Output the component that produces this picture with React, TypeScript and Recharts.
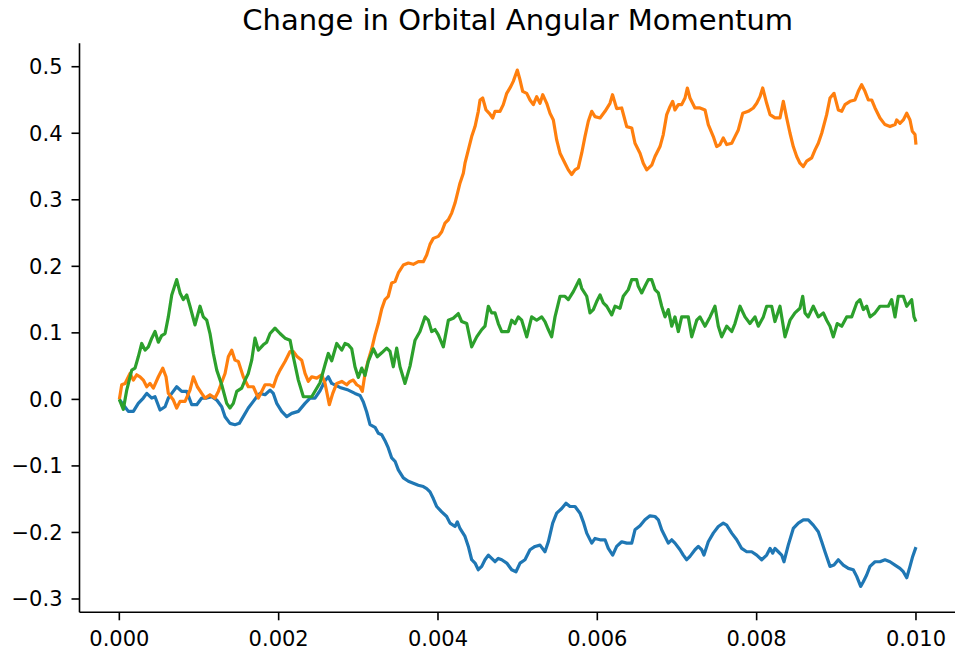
import React from "react";
import { LineChart, Line, XAxis, YAxis } from "recharts";

// [time (s), change in orbital angular momentum]
const blue: [number, number][] = [
  [0, 0], [0.00005, -0.008], [0.000113, -0.018], [0.000176, -0.018], [0.000238, -0.006], [0.000301, 0.002],
  [0.000344, 0.009], [0.000407, 0.002], [0.000448, 0.004], [0.000511, -0.016], [0.000574, -0.011], [0.000615, 0.002],
  [0.000658, 0.009], [0.00072, 0.019], [0.000783, 0.012], [0.000846, 0.012], [0.000909, -0.008], [0.000972, -0.008],
  [0.001034, 0.002], [0.001097, 0.002], [0.00116, 0.004], [0.001223, -0.001], [0.001285, -0.011], [0.001327, -0.026],
  [0.001389, -0.036], [0.001452, -0.038], [0.001506, -0.036], [0.001556, -0.026], [0.001619, -0.013], [0.001682, -0.003],
  [0.001725, 0.004], [0.001766, 0.009], [0.001829, 0.007], [0.001892, 0.014], [0.001933, 0.009], [0.001976, -0.006],
  [0.002038, -0.018], [0.002101, -0.026], [0.002164, -0.021], [0.002247, -0.018], [0.002331, -0.006], [0.002394, 0.002],
  [0.002456, 0.002], [0.002519, 0.013], [0.002582, 0.028], [0.002623, 0.034], [0.002666, 0.024], [0.00277, 0.018],
  [0.002874, 0.014], [0.002958, 0.009], [0.003021, 0.006], [0.003063, -0.004], [0.003105, -0.019], [0.003147, -0.038],
  [0.00321, -0.042], [0.003251, -0.051], [0.003294, -0.053], [0.003335, -0.062], [0.003376, -0.073], [0.003419, -0.088],
  [0.003461, -0.093], [0.003502, -0.106], [0.003565, -0.118], [0.003628, -0.123], [0.00369, -0.126], [0.003753, -0.129],
  [0.003816, -0.131], [0.003858, -0.134], [0.0039, -0.139], [0.003941, -0.149], [0.003984, -0.161], [0.004047, -0.169],
  [0.004109, -0.176], [0.004151, -0.186], [0.004214, -0.191], [0.004243, -0.184], [0.004276, -0.194], [0.004339, -0.206],
  [0.004381, -0.221], [0.004423, -0.241], [0.004465, -0.246], [0.004506, -0.256], [0.004549, -0.251], [0.00459, -0.241],
  [0.004632, -0.234], [0.004674, -0.239], [0.004716, -0.244], [0.004757, -0.239], [0.0048, -0.241], [0.004863, -0.246],
  [0.004925, -0.256], [0.004979, -0.259], [0.00503, -0.246], [0.005092, -0.241], [0.005155, -0.226], [0.005218, -0.221],
  [0.005281, -0.219], [0.005343, -0.229], [0.005385, -0.214], [0.00544, -0.186], [0.00549, -0.171], [0.005553, -0.164],
  [0.005607, -0.156], [0.005657, -0.161], [0.00572, -0.161], [0.005783, -0.171], [0.005824, -0.184], [0.005867, -0.201],
  [0.00593, -0.216], [0.005971, -0.209], [0.006034, -0.211], [0.006097, -0.211], [0.006138, -0.224], [0.006193, -0.234],
  [0.006243, -0.221], [0.006306, -0.214], [0.006369, -0.216], [0.006432, -0.216], [0.006473, -0.196], [0.006536, -0.19],
  [0.006598, -0.181], [0.006661, -0.175], [0.006724, -0.176], [0.006766, -0.181], [0.006808, -0.196], [0.00685, -0.206],
  [0.006891, -0.216], [0.006934, -0.211], [0.006975, -0.216], [0.007038, -0.226], [0.007079, -0.234], [0.007122, -0.241],
  [0.007163, -0.236], [0.007226, -0.226], [0.007268, -0.221], [0.00731, -0.226], [0.007339, -0.234], [0.007393, -0.214],
  [0.007456, -0.201], [0.007519, -0.191], [0.007581, -0.186], [0.007624, -0.189], [0.007687, -0.201], [0.00775, -0.211],
  [0.007812, -0.224], [0.007875, -0.229], [0.007938, -0.229], [0.008001, -0.234], [0.008063, -0.241], [0.008126, -0.234],
  [0.008168, -0.224], [0.008202, -0.231], [0.00823, -0.224], [0.008272, -0.229], [0.008314, -0.234], [0.008343, -0.244],
  [0.008397, -0.219], [0.00846, -0.194], [0.008523, -0.186], [0.008586, -0.181], [0.008648, -0.181], [0.008711, -0.189],
  [0.008774, -0.199], [0.008817, -0.214], [0.008858, -0.229], [0.008921, -0.251], [0.008971, -0.249], [0.009025, -0.241],
  [0.009088, -0.249], [0.009151, -0.254], [0.009213, -0.256], [0.009256, -0.266], [0.009306, -0.281], [0.009339, -0.274],
  [0.009381, -0.264], [0.009423, -0.251], [0.009486, -0.244], [0.009548, -0.244], [0.009611, -0.241], [0.009674, -0.244],
  [0.009737, -0.249], [0.009799, -0.254], [0.009841, -0.259], [0.009884, -0.268], [0.009925, -0.251], [0.009959, -0.236],
  [0.01, -0.222],
];

const orange: [number, number][] = [
  [0, 0], [0.00003, 0.022], [0.000072, 0.024], [0.000134, 0.039], [0.000176, 0.029], [0.000218, 0.037],
  [0.00026, 0.034], [0.000301, 0.029], [0.000344, 0.019], [0.000385, 0.024], [0.000427, 0.017], [0.00049, 0.034],
  [0.000545, 0.047], [0.000586, 0.034], [0.000615, 0.009], [0.000678, -0.001], [0.00072, -0.013], [0.000762, -0.003],
  [0.000825, -0.003], [0.000887, 0.014], [0.000929, 0.034], [0.000979, 0.019], [0.001034, 0.009], [0.001076, 0.002],
  [0.001138, 0.007], [0.001201, 0.002], [0.001243, 0.012], [0.001264, 0.019], [0.001327, 0.039], [0.001368, 0.064],
  [0.001411, 0.074], [0.001452, 0.059], [0.001494, 0.057], [0.001556, 0.034], [0.001619, 0.019], [0.001682, 0.019],
  [0.001745, 0.002], [0.001787, 0.012], [0.001829, 0.022], [0.001892, 0.022], [0.001933, 0.019], [0.001976, 0.034],
  [0.002017, 0.044], [0.00208, 0.057], [0.002143, 0.072], [0.002184, 0.072], [0.002227, 0.065], [0.002289, 0.059],
  [0.002331, 0.039], [0.002372, 0.027], [0.002415, 0.034], [0.002478, 0.032], [0.002541, 0.037], [0.002582, 0.024],
  [0.002636, -0.008], [0.002679, 0.009], [0.002729, 0.024], [0.002792, 0.027], [0.002854, 0.022], [0.002896, 0.027],
  [0.002937, 0.029], [0.00298, 0.022], [0.003021, 0.019], [0.00305, 0.012], [0.003084, 0.039], [0.003125, 0.059],
  [0.003168, 0.076], [0.00321, 0.097], [0.003251, 0.114], [0.003294, 0.136], [0.003335, 0.15], [0.003376, 0.155],
  [0.003419, 0.175], [0.003461, 0.177], [0.003502, 0.19], [0.003565, 0.202], [0.003628, 0.205], [0.00369, 0.203],
  [0.003753, 0.207], [0.003816, 0.207], [0.003858, 0.217], [0.0039, 0.233], [0.003941, 0.242], [0.004004, 0.245],
  [0.004047, 0.252], [0.004088, 0.265], [0.00413, 0.27], [0.004172, 0.28], [0.004214, 0.295], [0.004235, 0.305],
  [0.004276, 0.325], [0.004318, 0.34], [0.004339, 0.355], [0.004381, 0.375], [0.004423, 0.395], [0.004465, 0.41],
  [0.004506, 0.433], [0.004528, 0.45], [0.004561, 0.453], [0.004603, 0.435], [0.004644, 0.43], [0.004687, 0.423],
  [0.004716, 0.433], [0.004779, 0.433], [0.00482, 0.443], [0.004863, 0.46], [0.004913, 0.47], [0.004945, 0.478],
  [0.004996, 0.495], [0.00503, 0.48], [0.005063, 0.463], [0.005114, 0.46], [0.005155, 0.45], [0.005197, 0.443],
  [0.005239, 0.455], [0.005281, 0.445], [0.005315, 0.458], [0.005365, 0.445], [0.005406, 0.43], [0.005448, 0.42],
  [0.00549, 0.39], [0.005532, 0.37], [0.005594, 0.355], [0.005636, 0.345], [0.005678, 0.338], [0.00572, 0.345],
  [0.005761, 0.348], [0.005804, 0.37], [0.005845, 0.395], [0.005887, 0.418], [0.00593, 0.433], [0.005971, 0.425],
  [0.006034, 0.423], [0.006097, 0.433], [0.006159, 0.445], [0.006191, 0.458], [0.006243, 0.437], [0.006306, 0.438],
  [0.006369, 0.41], [0.006432, 0.408], [0.006473, 0.385], [0.006536, 0.37], [0.006577, 0.355], [0.00662, 0.345],
  [0.006683, 0.352], [0.006724, 0.365], [0.006787, 0.38], [0.006828, 0.398], [0.006871, 0.428], [0.006912, 0.44],
  [0.006946, 0.448], [0.006975, 0.435], [0.007017, 0.443], [0.007059, 0.443], [0.007101, 0.453], [0.00713, 0.468],
  [0.007163, 0.453], [0.007226, 0.438], [0.007289, 0.438], [0.007352, 0.435], [0.007393, 0.413], [0.007456, 0.395],
  [0.007498, 0.38], [0.00754, 0.383], [0.007581, 0.393], [0.007624, 0.383], [0.007687, 0.385], [0.007728, 0.395],
  [0.00777, 0.405], [0.007825, 0.43], [0.007895, 0.433], [0.007958, 0.438], [0.008001, 0.445], [0.008042, 0.455],
  [0.008076, 0.468], [0.008126, 0.445], [0.008168, 0.428], [0.00823, 0.423], [0.008293, 0.423], [0.008335, 0.448],
  [0.008377, 0.423], [0.008419, 0.4], [0.00846, 0.38], [0.008503, 0.365], [0.008544, 0.355], [0.008586, 0.35],
  [0.008628, 0.358], [0.008691, 0.363], [0.008733, 0.375], [0.008774, 0.385], [0.008817, 0.4], [0.008879, 0.428],
  [0.008921, 0.453], [0.008971, 0.46], [0.009025, 0.435], [0.009068, 0.433], [0.009109, 0.443], [0.009172, 0.448],
  [0.009234, 0.45], [0.009276, 0.463], [0.009318, 0.473], [0.00936, 0.463], [0.009402, 0.45], [0.009444, 0.45],
  [0.009486, 0.438], [0.009548, 0.423], [0.009611, 0.413], [0.009674, 0.41], [0.009737, 0.413], [0.009758, 0.42],
  [0.009799, 0.415], [0.009841, 0.42], [0.009884, 0.43], [0.009925, 0.42], [0.009954, 0.403], [0.009988, 0.398],
  [0.01, 0.383],
];

const green: [number, number][] = [
  [0, 0], [0.00005, -0.015], [0.000093, 0.014], [0.000156, 0.044], [0.000197, 0.047], [0.000238, 0.064],
  [0.000281, 0.084], [0.000323, 0.074], [0.000364, 0.079], [0.000407, 0.092], [0.000448, 0.102], [0.00049, 0.086],
  [0.000532, 0.096], [0.000574, 0.099], [0.000615, 0.124], [0.000658, 0.157], [0.00072, 0.18], [0.000762, 0.16],
  [0.000803, 0.15], [0.000846, 0.157], [0.000887, 0.14], [0.00095, 0.112], [0.001013, 0.14], [0.001054, 0.124],
  [0.001097, 0.119], [0.001138, 0.099], [0.00118, 0.069], [0.001223, 0.044], [0.001285, 0.022], [0.001348, -0.006],
  [0.001389, -0.013], [0.001431, -0.006], [0.001474, 0.012], [0.001536, 0.017], [0.001578, 0.029], [0.001619, 0.039],
  [0.001662, 0.059], [0.001703, 0.092], [0.001745, 0.074], [0.001807, 0.082], [0.00185, 0.086], [0.001892, 0.099],
  [0.001954, 0.107], [0.002017, 0.099], [0.00208, 0.092], [0.002143, 0.089], [0.002184, 0.064], [0.002247, 0.029],
  [0.00231, 0.004], [0.002415, 0.004], [0.002519, 0.025], [0.002582, 0.052], [0.002623, 0.069], [0.002666, 0.058],
  [0.002729, 0.084], [0.002792, 0.074], [0.002833, 0.084], [0.002874, 0.082], [0.002917, 0.076], [0.002958, 0.049],
  [0.003, 0.033], [0.003043, 0.047], [0.003084, 0.036], [0.003125, 0.057], [0.003188, 0.076], [0.003238, 0.064],
  [0.003294, 0.07], [0.003356, 0.077], [0.003398, 0.072], [0.003439, 0.049], [0.003482, 0.077], [0.003523, 0.049],
  [0.003586, 0.024], [0.003649, 0.05], [0.003712, 0.089], [0.003774, 0.102], [0.003837, 0.124], [0.003879, 0.119],
  [0.003921, 0.102], [0.003963, 0.105], [0.004004, 0.097], [0.004067, 0.079], [0.00413, 0.119], [0.004192, 0.122],
  [0.004255, 0.129], [0.004298, 0.117], [0.004361, 0.114], [0.004423, 0.079], [0.004486, 0.094], [0.004549, 0.105],
  [0.00459, 0.11], [0.004632, 0.14], [0.004674, 0.13], [0.004716, 0.13], [0.004757, 0.114], [0.0048, 0.102],
  [0.004883, 0.102], [0.004925, 0.119], [0.004967, 0.114], [0.005008, 0.124], [0.005051, 0.119], [0.005114, 0.094],
  [0.005176, 0.124], [0.005239, 0.119], [0.005302, 0.124], [0.005343, 0.117], [0.005385, 0.105], [0.005427, 0.094],
  [0.005469, 0.124], [0.005532, 0.155], [0.005594, 0.155], [0.005636, 0.15], [0.005699, 0.162], [0.005741, 0.172],
  [0.005774, 0.18], [0.005804, 0.167], [0.005867, 0.155], [0.005908, 0.13], [0.00595, 0.135], [0.005992, 0.147],
  [0.006034, 0.157], [0.006075, 0.145], [0.006118, 0.14], [0.006181, 0.127], [0.006222, 0.14], [0.006285, 0.137],
  [0.006326, 0.155], [0.006389, 0.165], [0.006432, 0.18], [0.006494, 0.18], [0.006514, 0.17], [0.006557, 0.16],
  [0.006598, 0.17], [0.00664, 0.18], [0.006683, 0.18], [0.006724, 0.165], [0.006766, 0.16], [0.006808, 0.14],
  [0.00685, 0.124], [0.006891, 0.135], [0.006934, 0.11], [0.006975, 0.124], [0.007017, 0.102], [0.007059, 0.124],
  [0.007142, 0.124], [0.007185, 0.094], [0.007248, 0.119], [0.007289, 0.124], [0.007352, 0.11], [0.007415, 0.124],
  [0.007477, 0.14], [0.007519, 0.11], [0.007561, 0.094], [0.007624, 0.11], [0.007687, 0.102], [0.007728, 0.114],
  [0.007791, 0.14], [0.007854, 0.124], [0.007916, 0.114], [0.007979, 0.124], [0.008021, 0.11], [0.008084, 0.124],
  [0.008126, 0.14], [0.008189, 0.14], [0.00823, 0.117], [0.008293, 0.14], [0.008356, 0.094], [0.008419, 0.119],
  [0.008481, 0.13], [0.008544, 0.137], [0.008578, 0.155], [0.008607, 0.13], [0.008648, 0.124], [0.008711, 0.14],
  [0.008774, 0.124], [0.008837, 0.13], [0.008879, 0.119], [0.008921, 0.11], [0.008962, 0.094], [0.009012, 0.114],
  [0.009068, 0.11], [0.00913, 0.124], [0.009193, 0.124], [0.009256, 0.145], [0.009297, 0.15], [0.009339, 0.135],
  [0.009381, 0.14], [0.009423, 0.124], [0.009486, 0.13], [0.009548, 0.14], [0.009611, 0.14], [0.009653, 0.14],
  [0.009695, 0.15], [0.009737, 0.124], [0.009778, 0.155], [0.009841, 0.155], [0.009884, 0.14], [0.009946, 0.15],
  [0.009975, 0.124], [0.01, 0.117],
];

const xTicks = [0, 0.002, 0.004, 0.006, 0.008, 0.01];
const yTicks = [-0.3, -0.2, -0.1, 0, 0.1, 0.2, 0.3, 0.4, 0.5];

const toRows = (pts: [number, number][]) => pts.map(([t, v]) => ({ t, v }));

const FONT = "DejaVu Sans";
const tickStyle = { fill: "#000", fontSize: 21, fontFamily: FONT };
const fmtY = (v: number) => (v < 0 ? "\u2212" : "") + Math.abs(v).toFixed(1);

const App: React.FC = () => (
  <div style={{ position: "absolute", left: 0, top: 0, width: 955, height: 656, overflow: "hidden", background: "#fff" }}>
    <svg width={955} height={44} style={{ position: "absolute", left: 0, top: 0 }}>
      <text x={517.65} y={29.5} textAnchor="middle" fontFamily={FONT} fontSize={29} fill="#000">
        Change in Orbital Angular Momentum
      </text>
    </svg>
    <LineChart
      width={960}
      height={656}
      margin={{ top: 43.3, right: 4.2, left: 0, bottom: 0 }}
      style={{ position: "absolute", left: 0, top: 0, fontFamily: FONT }}
    >
      <XAxis
        dataKey="t"
        type="number"
        domain={[-0.0005, 0.0105]}
        allowDataOverflow
        ticks={xTicks}
        tickFormatter={(v: number) => v.toFixed(3)}
        height={43.7}
        tickSize={8}
        tickMargin={11}
        tick={tickStyle}
        axisLine={{ stroke: "#000", strokeWidth: 1.6 }}
        tickLine={{ stroke: "#000", strokeWidth: 1.6 }}
      />
      <XAxis
        xAxisId="top"
        orientation="top"
        type="number"
        domain={[-0.0005, 0.0105]}
        height={0}
        tick={false}
        tickLine={false}
        axisLine={{ stroke: "#000", strokeWidth: 1.6 }}
      />
      <YAxis
        type="number"
        domain={[-0.32, 0.5352]}
        allowDataOverflow
        ticks={yTicks}
        tickFormatter={fmtY}
        width={79.5}
        tickSize={8}
        tickMargin={9}
        tick={tickStyle}
        axisLine={{ stroke: "#000", strokeWidth: 1.6 }}
        tickLine={{ stroke: "#000", strokeWidth: 1.6 }}
      />
      <Line data={toRows(blue)} dataKey="v" type="linear" stroke="#1f77b4" strokeWidth={3.2} strokeLinejoin="round" dot={false} isAnimationActive={false} />
      <Line data={toRows(orange)} dataKey="v" type="linear" stroke="#ff7f0e" strokeWidth={3.2} strokeLinejoin="round" dot={false} isAnimationActive={false} />
      <Line data={toRows(green)} dataKey="v" type="linear" stroke="#2ca02c" strokeWidth={3.2} strokeLinejoin="round" dot={false} isAnimationActive={false} />
    </LineChart>
  </div>
);

export default App;
